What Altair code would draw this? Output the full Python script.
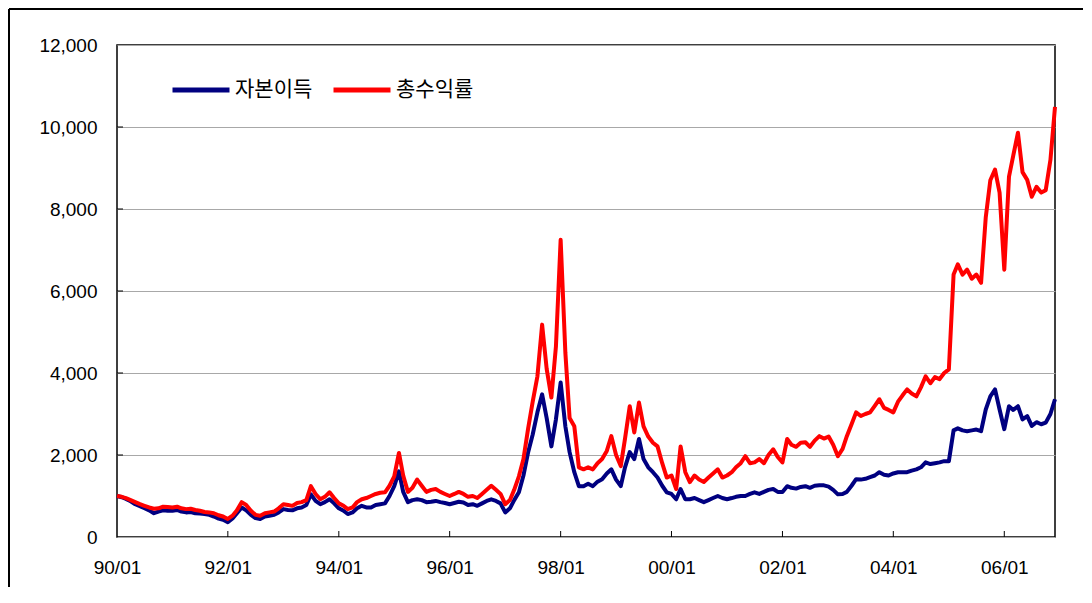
import altair as alt
import pandas as pd

# Monthly values, Jan 1990 .. Dec 2006 (index, 1990/01 = 1000)
capital_gain = [  # 자본이득
    1000, 970, 930, 870, 800, 750, 700, 650, 580, 620, 650, 640,       # 1990
    640, 660, 620, 600, 610, 580, 570, 560, 540, 500, 450, 420,        # 1991
    360, 450, 580, 720, 650, 540, 460, 440, 500, 520, 540, 600,        # 1992
    680, 660, 650, 700, 720, 780, 1040, 880, 800, 850, 920, 820,       # 1993
    700, 640, 560, 600, 700, 760, 720, 720, 780, 800, 820, 1000,       # 1994
    1240, 1600, 1100, 850, 900, 920, 900, 850, 860, 880, 850, 830,     # 1995
    800, 830, 860, 840, 780, 800, 760, 820, 880, 920, 880, 820,        # 1996
    600, 700, 900, 1090, 1500, 2070, 2500, 3040, 3480, 2900, 2210, 2870,  # 1997
    3770, 2700, 2070, 1580, 1240, 1240, 1300, 1240, 1350, 1410, 1550, 1650,  # 1998
    1400, 1240, 1700, 2070, 1900, 2390, 1900, 1700, 1580, 1450, 1250, 1090,  # 1999
    1050, 920, 1170, 920, 920, 950, 900, 850, 900, 950, 1000, 950,     # 2000
    920, 950, 980, 1000, 1000, 1050, 1090, 1050, 1100, 1150, 1170, 1100,  # 2001
    1100, 1240, 1200, 1180, 1220, 1240, 1200, 1250, 1260, 1260, 1230, 1150,  # 2002
    1040, 1050, 1100, 1250, 1410, 1400, 1420, 1460, 1500, 1580, 1520, 1500,  # 2003
    1550, 1580, 1580, 1580, 1620, 1650, 1700, 1820, 1780, 1800, 1820, 1850,  # 2004
    1850, 2600, 2650, 2600, 2580, 2600, 2620, 2580, 3110, 3430, 3600, 3110,  # 2005
    2630, 3190, 3100, 3190, 2870, 2950, 2710, 2800, 2750, 2790, 3000, 3360,  # 2006
]

total_return = [  # 총수익률
    1000, 980, 950, 900, 850, 800, 760, 720, 690, 700, 740, 730,       # 1990
    720, 740, 700, 680, 690, 660, 640, 610, 600, 580, 530, 500,        # 1991
    440, 520, 650, 850, 780, 640, 540, 520, 580, 600, 620, 700,        # 1992
    800, 780, 760, 830, 850, 900, 1240, 1050, 920, 980, 1090, 950,     # 1993
    820, 760, 680, 720, 850, 920, 950, 1000, 1050, 1080, 1090, 1250,   # 1994
    1480, 2050, 1500, 1100, 1200, 1400, 1250, 1100, 1150, 1170, 1100, 1050,  # 1995
    1000, 1050, 1100, 1050, 980, 1000, 950, 1050, 1150, 1250, 1150, 1050,    # 1996
    800, 900, 1150, 1480, 1900, 2650, 3300, 3920, 5180, 4100, 3400, 4650,    # 1997
    7250, 4500, 2900, 2700, 1700, 1650, 1700, 1650, 1800, 1900, 2100, 2460,  # 1998
    2000, 1730, 2400, 3190, 2550, 3280, 2700, 2450, 2300, 2210, 1800, 1450,  # 1999
    1500, 1170, 2210, 1580, 1340, 1500, 1400, 1340, 1450, 1550, 1650, 1450,  # 2000
    1500, 1580, 1700, 1800, 1970, 1800, 1820, 1900, 1800, 2000, 2140, 1950,  # 2001
    1820, 2390, 2250, 2200, 2300, 2310, 2200, 2350, 2460, 2400, 2450, 2250,  # 2002
    1970, 2150, 2460, 2750, 3040, 2950, 3000, 3040, 3200, 3360, 3150, 3100,  # 2003
    3040, 3300, 3450, 3600, 3500, 3430, 3650, 3920, 3750, 3900, 3850, 4000,  # 2004
    4090, 6400, 6650, 6400, 6520, 6300, 6400, 6200, 7800, 8700, 8960, 8400,  # 2005
    6520, 8790, 9300, 9860, 8900, 8710, 8300, 8540, 8400, 8460, 9200, 10490, # 2006
]

series_names = ["자본이득", "총수익률"]
series_colors = ["#000080", "#ff0000"]
y_ticks = [0, 2000, 4000, 6000, 8000, 10000, 12000]
x_tick_years = [1990, 1992, 1994, 1996, 1998, 2000, 2002, 2004, 2006]

dates = pd.date_range("1990-01-01", periods=len(total_return), freq="MS")
df = pd.concat([
    pd.DataFrame({"date": dates, "value": capital_gain, "series": series_names[0]}),
    pd.DataFrame({"date": dates, "value": total_return, "series": series_names[1]}),
], ignore_index=True)

W, H = 938, 492

x_scale = alt.Scale(domain=[alt.DateTime(year=1990, month=1, date=1),
                            alt.DateTime(year=2006, month=12, date=1)])
y_scale = alt.Scale(domain=[0, 12000], nice=False)

lines = alt.Chart(df).mark_line(strokeWidth=4, strokeJoin="round").encode(
    x=alt.X("date:T", scale=x_scale, title=None,
            axis=alt.Axis(values=[alt.DateTime(year=y, month=1, date=1) for y in x_tick_years],
                          format="%y/%m", grid=False, ticks=False, domain=False,
                          labelPadding=21, labelFlush=False, labelOverlap=False)),
    y=alt.Y("value:Q", scale=y_scale, title=None,
            axis=alt.Axis(values=y_ticks, format=",d", ticks=False, domain=False,
                          labelPadding=20, grid=True)),
    color=alt.Color("series:N", scale=alt.Scale(domain=series_names, range=series_colors),
                    legend=alt.Legend(title=None, orient="none", legendX=53, legendY=14,
                                      direction="horizontal", symbolType="stroke",
                                      symbolSize=3249, symbolStrokeWidth=5,
                                      labelFont="Noto Sans CJK KR", labelFontSize=21,
                                      labelColor="#000", labelOffset=3, columnPadding=10)),
)

tick_df = pd.DataFrame({"date": [pd.Timestamp(year=y, month=1, day=1) for y in x_tick_years[1:]]})
x_ticks = alt.Chart(tick_df).mark_rule(color="#000", strokeWidth=1).encode(
    x=alt.X("date:T", scale=x_scale),
    y=alt.value(H), y2=alt.value(H - 6),
)
ytick_df = pd.DataFrame({"v": y_ticks[1:-1]})
y_tick_marks = alt.Chart(ytick_df).mark_rule(color="#000", strokeWidth=1).encode(
    y=alt.Y("v:Q", scale=y_scale), x=alt.value(0), x2=alt.value(6),
)

frame_data = alt.Data(values=[{"k": 1}])
frame_left = alt.Chart(frame_data).mark_rule(color="#000", strokeWidth=2).encode(
    x=alt.value(-108), y=alt.value(-36), y2=alt.value(H + 60))
frame_top = alt.Chart(frame_data).mark_rule(color="#000", strokeWidth=2).encode(
    x=alt.value(-108), x2=alt.value(W + 40), y=alt.value(-36))

chart = alt.layer(lines, x_ticks, y_tick_marks, frame_left, frame_top).properties(
    width=W, height=H,
    autosize=alt.AutoSizeParams(type="none"),
    padding={"left": 109, "top": 37, "right": 28, "bottom": 50},
    background="white",
).configure_view(stroke="#000", strokeWidth=1.5).configure_axis(
    labelFont="Liberation Sans", labelFontSize=19, labelColor="#000",
    gridColor="#a8a8a8", gridWidth=1,
)

chart.save("out.html", embed_options={"renderer": "svg", "actions": False})
